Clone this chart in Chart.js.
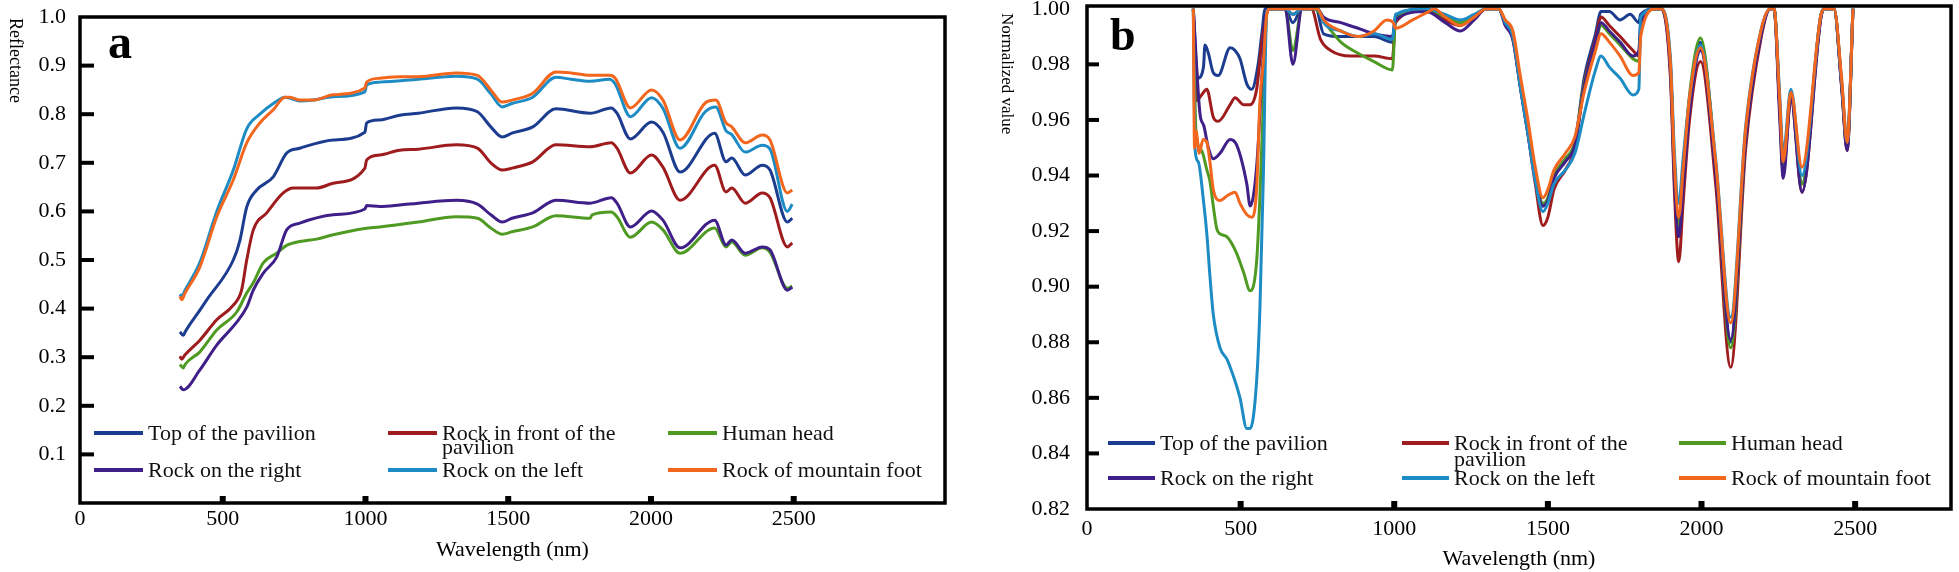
<!DOCTYPE html>
<html>
<head>
<meta charset="utf-8">
<script src="https://cdn.jsdelivr.net/npm/chart.js@4.4.1/dist/chart.umd.min.js"></script>
<style>
  html, body { margin: 0; padding: 0; background: #fff; }
  #page { position: relative; width: 1959px; height: 572px; overflow: hidden; background: #fff; }
  .panel { position: absolute; top: 0; height: 572px; }
  #wrapA { left: 0; width: 960px; }
  #wrapB { left: 975px; width: 984px; }
</style>
</head>
<body>
<div id="page">
  <div class="panel" id="wrapA"><canvas id="chartA"></canvas></div>
  <div class="panel" id="wrapB"><canvas id="chartB"></canvas></div>
</div>
<script>
// noms des séries et couleurs
const seriesNames = ['Top of the pavilion', 'Rock in front of the pavilion', 'Human head',
                     'Rock on the right', 'Rock on the left', 'Rock of mountain foot'];
const seriesColors = ['#1c3c90', '#9e1c1e', '#4f9a22', '#3f1f88', '#1e8cc4', '#f2661d'];

// graduations
const xTicks = [0, 500, 1000, 1500, 2000, 2500];
const yTicksA = [0.1, 0.2, 0.3, 0.4, 0.5, 0.6, 0.7, 0.8, 0.9, 1.0];
const yTicksB = [0.82, 0.84, 0.86, 0.88, 0.90, 0.92, 0.94, 0.96, 0.98, 1.00];

// panneau a : réflectance [longueur d'onde nm, valeur]
const aTop = [[350,0.352],[362,0.345],[368,0.352],[420,0.397],[444,0.418],[537,0.500],[560,0.540],[584,0.609],[619,0.644],[677,0.671],[724,0.720],[770,0.730],[887,0.747],[998,0.763],[1004,0.782],[1050,0.788],[1120,0.798],[1185,0.802],[1318,0.813],[1392,0.805],[1439,0.774],[1479,0.753],[1513,0.761],[1586,0.774],[1667,0.811],[1787,0.802],[1861,0.813],[1881,0.802],[1928,0.749],[2002,0.784],[2042,0.763],[2102,0.681],[2223,0.761],[2263,0.702],[2283,0.710],[2330,0.675],[2390,0.695],[2417,0.685],[2478,0.578],[2495,0.586]];
const aFront = [[350,0.302],[356,0.296],[368,0.305],[420,0.335],[479,0.377],[537,0.407],[566,0.438],[584,0.500],[607,0.562],[654,0.597],[712,0.638],[747,0.648],[829,0.648],[887,0.658],[998,0.689],[1004,0.706],[1050,0.716],[1120,0.726],[1185,0.728],[1318,0.737],[1392,0.730],[1439,0.700],[1479,0.685],[1513,0.689],[1586,0.702],[1667,0.737],[1787,0.733],[1861,0.741],[1881,0.730],[1928,0.679],[2002,0.716],[2042,0.691],[2102,0.623],[2223,0.695],[2263,0.640],[2283,0.648],[2330,0.617],[2390,0.638],[2417,0.628],[2478,0.527],[2495,0.535]];
const aHead = [[350,0.285],[362,0.278],[368,0.285],[420,0.311],[479,0.356],[549,0.393],[584,0.432],[607,0.453],[642,0.494],[689,0.514],[724,0.530],[770,0.538],[829,0.543],[887,0.552],[998,0.565],[1050,0.568],[1185,0.578],[1318,0.589],[1392,0.586],[1439,0.566],[1479,0.553],[1513,0.558],[1586,0.568],[1667,0.591],[1787,0.586],[1794,0.593],[1861,0.599],[1881,0.589],[1928,0.547],[2002,0.578],[2042,0.562],[2102,0.514],[2223,0.566],[2263,0.527],[2283,0.537],[2330,0.510],[2390,0.525],[2417,0.516],[2478,0.442],[2495,0.446]];
const aRight = [[350,0.240],[362,0.233],[420,0.274],[479,0.325],[549,0.372],[584,0.403],[607,0.438],[642,0.473],[689,0.506],[724,0.562],[770,0.576],[887,0.593],[998,0.605],[1004,0.612],[1050,0.610],[1120,0.613],[1185,0.617],[1318,0.623],[1392,0.615],[1439,0.593],[1479,0.578],[1513,0.586],[1586,0.597],[1667,0.623],[1787,0.617],[1861,0.628],[1881,0.617],[1928,0.568],[2002,0.601],[2042,0.582],[2102,0.525],[2223,0.582],[2263,0.531],[2283,0.541],[2330,0.514],[2390,0.527],[2417,0.521],[2478,0.438],[2495,0.444]];
const aLeft = [[350,0.430],[356,0.425],[368,0.438],[420,0.495],[479,0.600],[537,0.685],[584,0.770],[630,0.800],[677,0.822],[718,0.835],[735,0.833],[770,0.827],[817,0.829],[887,0.836],[998,0.846],[1004,0.860],[1050,0.866],[1185,0.872],[1318,0.878],[1392,0.872],[1439,0.842],[1479,0.815],[1513,0.822],[1586,0.835],[1667,0.876],[1720,0.872],[1787,0.868],[1854,0.872],[1875,0.862],[1928,0.795],[2002,0.834],[2042,0.812],[2102,0.730],[2190,0.805],[2227,0.815],[2263,0.766],[2283,0.758],[2330,0.722],[2390,0.736],[2417,0.728],[2478,0.600],[2495,0.615]];
const aFoot = [[350,0.425],[356,0.418],[368,0.432],[420,0.486],[479,0.589],[537,0.665],[584,0.741],[630,0.782],[677,0.809],[718,0.835],[735,0.835],[770,0.829],[817,0.829],[887,0.840],[998,0.854],[1004,0.866],[1050,0.874],[1120,0.877],[1185,0.877],[1318,0.885],[1392,0.880],[1439,0.850],[1479,0.825],[1513,0.829],[1586,0.843],[1667,0.887],[1720,0.885],[1787,0.880],[1854,0.880],[1875,0.874],[1928,0.813],[2002,0.850],[2042,0.829],[2102,0.747],[2190,0.823],[2227,0.829],[2263,0.782],[2283,0.774],[2330,0.741],[2390,0.757],[2417,0.747],[2478,0.638],[2495,0.644]];

// panneau b : valeur normalisée [longueur d'onde nm, valeur]
const bTop = [[346,1.0],[360,0.975],[379,0.979],[384,0.987],[395,0.984],[411,0.977],[427,0.976],[466,0.986],[482,0.985],[498,0.982],[520,0.973],[536,0.971],[557,0.980],[569,0.991],[580,1.0],[645,1.0],[670,0.995],[700,1.0],[745,1.0],[770,0.991],[826,0.990],[934,0.990],[994,0.988],[1004,0.997],[1105,1.0],[1166,0.997],[1215,0.995],[1260,0.997],[1300,1.0],[1340,1.0],[1361,0.995],[1386,0.990],[1410,0.973],[1435,0.957],[1459,0.941],[1484,0.929],[1500,0.931],[1520,0.940],[1557,0.946],[1588,0.952],[1618,0.975],[1655,0.991],[1673,0.999],[1700,0.999],[1735,0.996],[1768,0.998],[1796,0.995],[1802,0.998],[1851,1.0],[1869,1.0],[1899,0.979],[1912,0.942],[1926,0.920],[1940,0.938],[1961,0.966],[1997,0.988],[2046,0.943],[2095,0.880],[2144,0.955],[2193,0.991],[2224,1.0],[2236,1.0],[2254,0.966],[2266,0.943],[2291,0.969],[2327,0.937],[2389,0.998],[2401,1.0],[2431,1.0],[2456,0.973],[2474,0.950],[2493,1.0]];
const bFront = [[346,1.0],[357,0.967],[373,0.969],[390,0.971],[411,0.961],[427,0.9595],[466,0.9655],[482,0.968],[509,0.9655],[531,0.9655],[552,0.971],[569,0.988],[579,0.995],[590,1.0],[645,1.0],[670,0.998],[700,1.0],[730,1.0],[760,0.989],[793,0.985],[859,0.983],[934,0.983],[994,0.982],[1004,0.995],[1105,1.0],[1166,0.996],[1215,0.994],[1260,0.997],[1300,1.0],[1340,1.0],[1361,0.995],[1386,0.989],[1410,0.972],[1435,0.955],[1459,0.937],[1484,0.922],[1500,0.925],[1520,0.935],[1557,0.942],[1588,0.950],[1618,0.973],[1655,0.989],[1673,0.997],[1700,0.994],[1735,0.990],[1777,0.985],[1796,0.983],[1802,0.992],[1851,1.0],[1869,1.0],[1899,0.975],[1912,0.934],[1926,0.909],[1940,0.930],[1961,0.960],[1997,0.981],[2046,0.937],[2095,0.871],[2144,0.950],[2193,0.989],[2224,1.0],[2236,1.0],[2254,0.965],[2266,0.941],[2291,0.968],[2327,0.934],[2389,0.997],[2401,1.0],[2431,1.0],[2456,0.972],[2474,0.949],[2493,1.0]];
const bHead = [[346,1.0],[355,0.955],[373,0.949],[390,0.942],[400,0.938],[411,0.929],[422,0.921],[433,0.919],[455,0.918],[487,0.912],[510,0.905],[531,0.8985],[552,0.909],[563,0.933],[574,0.967],[585,0.998],[595,1.0],[645,1.0],[670,0.985],[700,1.0],[740,1.0],[788,0.993],[826,0.988],[882,0.984],[934,0.981],[994,0.978],[1004,0.996],[1105,1.0],[1166,0.997],[1215,0.995],[1260,0.997],[1300,1.0],[1340,1.0],[1361,0.995],[1386,0.990],[1410,0.973],[1435,0.957],[1459,0.940],[1484,0.930],[1500,0.932],[1520,0.940],[1557,0.946],[1588,0.952],[1618,0.973],[1655,0.987],[1673,0.994],[1700,0.991],[1735,0.987],[1777,0.982],[1796,0.981],[1802,0.992],[1851,1.0],[1869,1.0],[1899,0.979],[1912,0.941],[1926,0.922],[1940,0.941],[1961,0.969],[1997,0.9895],[2046,0.944],[2095,0.878],[2144,0.954],[2193,0.991],[2224,1.0],[2236,1.0],[2254,0.966],[2266,0.942],[2291,0.970],[2327,0.937],[2389,0.998],[2401,1.0],[2431,1.0],[2456,0.973],[2474,0.950],[2493,1.0]];
const bRight = [[346,1.0],[368,0.962],[380,0.958],[395,0.950],[411,0.946],[433,0.948],[466,0.953],[487,0.951],[520,0.937],[531,0.929],[552,0.943],[569,0.975],[585,1.0],[645,1.0],[670,0.980],[700,1.0],[750,1.0],[770,0.997],[826,0.995],[882,0.993],[934,0.991],[994,0.990],[1004,0.996],[1105,0.999],[1166,0.995],[1215,0.992],[1260,0.996],[1300,1.0],[1340,1.0],[1361,0.994],[1386,0.989],[1410,0.972],[1435,0.955],[1459,0.939],[1484,0.929],[1500,0.931],[1520,0.939],[1557,0.945],[1588,0.951],[1618,0.972],[1655,0.988],[1673,0.995],[1700,0.992],[1735,0.988],[1777,0.983],[1796,0.985],[1802,0.995],[1851,1.0],[1869,1.0],[1899,0.977],[1912,0.938],[1926,0.918],[1940,0.935],[1961,0.963],[1997,0.985],[2046,0.941],[2095,0.881],[2144,0.953],[2193,0.990],[2224,1.0],[2236,1.0],[2254,0.962],[2266,0.939],[2291,0.968],[2327,0.934],[2389,0.997],[2401,1.0],[2431,1.0],[2456,0.972],[2474,0.949],[2493,1.0]];
const bLeft = [[346,1.0],[352,0.949],[362,0.945],[379,0.931],[390,0.919],[400,0.904],[411,0.890],[433,0.878],[455,0.874],[466,0.871],[482,0.866],[498,0.860],[520,0.849],[531,0.849],[552,0.866],[563,0.893],[574,0.940],[585,0.999],[595,1.0],[645,1.0],[670,0.998],[700,1.0],[750,1.0],[770,0.995],[826,0.992],[882,0.990],[934,0.991],[994,0.989],[1004,0.998],[1105,1.0],[1166,0.998],[1215,0.996],[1260,0.998],[1300,1.0],[1340,1.0],[1361,0.995],[1386,0.990],[1410,0.972],[1435,0.955],[1459,0.938],[1484,0.927],[1500,0.930],[1520,0.937],[1557,0.942],[1588,0.948],[1618,0.962],[1655,0.978],[1673,0.983],[1700,0.979],[1735,0.975],[1777,0.969],[1796,0.971],[1802,0.997],[1851,1.0],[1869,1.0],[1899,0.982],[1912,0.948],[1926,0.930],[1940,0.946],[1961,0.968],[1997,0.987],[2046,0.946],[2095,0.889],[2144,0.958],[2193,0.992],[2224,1.0],[2236,1.0],[2254,0.970],[2266,0.948],[2291,0.971],[2327,0.940],[2389,0.998],[2401,1.0],[2431,1.0],[2456,0.974],[2474,0.952],[2493,1.0]];
const bFoot = [[346,1.0],[350,0.950],[355,0.956],[365,0.948],[378,0.953],[390,0.952],[400,0.945],[411,0.935],[433,0.931],[460,0.933],[482,0.934],[498,0.930],[520,0.926],[536,0.925],[552,0.935],[563,0.967],[574,0.981],[585,0.998],[595,1.0],[645,1.0],[700,1.0],[750,1.0],[770,0.996],[826,0.992],[882,0.990],[934,0.992],[976,0.996],[997,0.995],[1004,0.993],[1060,0.996],[1112,0.999],[1130,1.0],[1166,0.997],[1215,0.994],[1260,0.997],[1300,1.0],[1340,1.0],[1361,0.996],[1386,0.992],[1410,0.976],[1435,0.960],[1459,0.943],[1484,0.932],[1500,0.935],[1520,0.942],[1557,0.948],[1588,0.954],[1618,0.970],[1655,0.985],[1673,0.991],[1700,0.988],[1735,0.983],[1777,0.976],[1796,0.977],[1802,0.990],[1851,1.0],[1869,1.0],[1899,0.980],[1912,0.944],[1926,0.925],[1940,0.942],[1961,0.968],[1997,0.986],[2046,0.945],[2095,0.887],[2144,0.957],[2193,0.992],[2224,1.0],[2236,1.0],[2254,0.968],[2266,0.945],[2291,0.970],[2327,0.943],[2389,0.998],[2401,1.0],[2431,1.0],[2456,0.975],[2474,0.952],[2493,1.0]];

const FONT = "'Liberation Serif', 'Times New Roman', serif";
Chart.defaults.font.family = FONT;
Chart.defaults.color = '#000';

// coupe un libellé en lignes selon une largeur max
function wrapText(ctx, text, maxW) {
    const lines = [];
    let cur = '';
    text.split(' ').forEach(w => {
        const t = cur ? cur + ' ' + w : w;
        if (cur && ctx.measureText(t).width > maxW) { lines.push(cur); cur = w; }
        else cur = t;
    });
    lines.push(cur);
    return lines;
}

// cadre, petites graduations internes, lettre du panneau, titre Y et légende
const panelDecor = {
    id: 'panelDecor',
    afterDatasetsDraw(chart, args, o) {
        const { ctx, chartArea: { left, right, top, bottom }, scales: { x, y } } = chart;
        ctx.save();

        ctx.fillStyle = '#000';
        o.xMarks.forEach(v => {
            const px = x.getPixelForValue(v);
            ctx.fillRect(px - o.xMarkW / 2, bottom - o.xMarkH, o.xMarkW, o.xMarkH);
        });
        o.yMarks.forEach(v => {
            const py = y.getPixelForValue(v);
            ctx.fillRect(left, py - o.yMarkH / 2, o.yMarkW, o.yMarkH);
        });

        ctx.strokeStyle = '#000';
        ctx.lineWidth = o.frameWidth;
        ctx.strokeRect(left, top, right - left, bottom - top);

        // lettre du panneau
        ctx.font = 'bold ' + o.letterSize + 'px ' + FONT;
        ctx.textAlign = 'left';
        ctx.textBaseline = 'alphabetic';
        ctx.fillText(o.letter, left + o.letterDx, top + o.letterDy);

        // titre de l'axe Y (lu de haut en bas)
        ctx.save();
        ctx.translate(left + o.yTitleDx, top + o.yTitleDy);
        ctx.rotate(Math.PI / 2);
        ctx.font = o.yTitleSize + 'px ' + FONT;
        ctx.textBaseline = 'middle';
        ctx.fillText(o.yTitle, 0, 0);
        ctx.restore();

        // légende en 3 colonnes
        ctx.font = o.legendSize + 'px ' + FONT;
        ctx.textBaseline = 'middle';
        chart.data.datasets.forEach((ds, i) => {
            const x0 = left + o.legendCols[i % 3];
            const y0 = bottom + o.legendRows[Math.floor(i / 3)];
            ctx.strokeStyle = ds.borderColor;
            ctx.lineWidth = 4;
            ctx.beginPath();
            ctx.moveTo(x0, y0);
            ctx.lineTo(x0 + o.legendLine, y0);
            ctx.stroke();
            ctx.fillStyle = '#111';
            wrapText(ctx, ds.label, o.legendWrap).forEach((ln, k) => {
                ctx.fillText(ln, x0 + o.legendLine + 5, y0 + 1 + k * o.legendLineGap);
            });
        });

        ctx.restore();
    }
};

function makeDatasets(series) {
    return series.map((pts, i) => ({
        label: seriesNames[i],
        data: pts.map(([wl, v]) => ({ x: wl, y: v })),
        borderColor: seriesColors[i],
        backgroundColor: seriesColors[i],
        borderWidth: 3,
        pointRadius: 0,
        cubicInterpolationMode: 'monotone',
        order: series.length - 1 - i
    }));
}

function makePanel(canvasId, series, cfg) {
    return new Chart(document.getElementById(canvasId), {
        type: 'line',
        data: { datasets: makeDatasets(series) },
        options: {
            responsive: true,
            maintainAspectRatio: false,
            animation: false,
            events: [],
            layout: { autoPadding: false, padding: cfg.padding },
            plugins: {
                legend: { display: false },
                tooltip: { enabled: false },
                panelDecor: cfg.decor
            },
            scales: {
                x: {
                    type: 'linear',
                    min: 0,
                    max: cfg.xMax,
                    grid: { display: false, drawTicks: false },
                    border: { display: false },
                    afterBuildTicks: s => { s.ticks = xTicks.map(v => ({ value: v })); },
                    afterFit: s => { s.height = cfg.xAxisHeight; s.paddingLeft = 0; s.paddingRight = 0; },
                    ticks: {
                        autoSkip: false, maxRotation: 0, padding: cfg.xTickPad,
                        font: { size: 22 }, color: '#000',
                        callback: v => String(v)
                    },
                    title: {
                        display: true, text: 'Wavelength (nm)', color: '#000',
                        font: { size: 22 }, padding: { top: 0, bottom: cfg.xTitlePad }
                    }
                },
                y: {
                    type: 'linear',
                    min: cfg.yMin,
                    max: cfg.yMax,
                    grid: { display: false, drawTicks: false },
                    border: { display: false },
                    afterBuildTicks: s => { s.ticks = cfg.yTicks.map(v => ({ value: v })); },
                    afterFit: s => { s.width = cfg.yAxisWidth; s.paddingTop = 0; s.paddingBottom = 0; },
                    ticks: {
                        padding: cfg.yTickPad, font: { size: 22 }, color: '#000',
                        callback: v => v.toFixed(cfg.decimals)
                    }
                }
            }
        },
        plugins: [panelDecor]
    });
}

makePanel('chartA', [aTop, aFront, aHead, aRight, aLeft, aFoot], {
    padding: { top: 17, right: 15, bottom: 0, left: 0 },
    xMax: 3030, yMin: 0, yMax: 1.0, yTicks: yTicksA, decimals: 1,
    xAxisHeight: 69, yAxisWidth: 80, xTickPad: 3, xTitlePad: 9, yTickPad: 14,
    decor: {
        xMarks: xTicks.slice(1), yMarks: yTicksA.slice(0, -1),
        xMarkW: 6, xMarkH: 7, yMarkW: 14, yMarkH: 4, frameWidth: 3.5,
        letter: 'a', letterSize: 48, letterDx: 28, letterDy: 41,
        yTitle: 'Reflectance', yTitleSize: 18, yTitleDx: -65, yTitleDy: 1,
        legendCols: [14, 308, 588], legendRows: [-70, -33], legendLine: 49,
        legendSize: 22, legendWrap: 220, legendLineGap: 14
    }
});

makePanel('chartB', [bTop, bFront, bHead, bRight, bLeft, bFoot], {
    padding: { top: 6, right: 8, bottom: 0, left: 0 },
    xMax: 2812, yMin: 0.82, yMax: 1.001, yTicks: yTicksB, decimals: 2,
    xAxisHeight: 63, yAxisWidth: 112, xTickPad: 7, xTitlePad: 0, yTickPad: 17,
    decor: {
        xMarks: xTicks.slice(1), yMarks: yTicksB.slice(1, -1),
        xMarkW: 6, xMarkH: 8, yMarkW: 12, yMarkH: 4, frameWidth: 3.5,
        letter: 'b', letterSize: 46, letterDx: 23, letterDy: 44,
        yTitle: 'Normalized value', yTitleSize: 17, yTitleDx: -81, yTitleDy: 7,
        legendCols: [21, 315, 592], legendRows: [-66, -31], legendLine: 47,
        legendSize: 22, legendWrap: 220, legendLineGap: 16
    }
});
</script>
</body>
</html>
